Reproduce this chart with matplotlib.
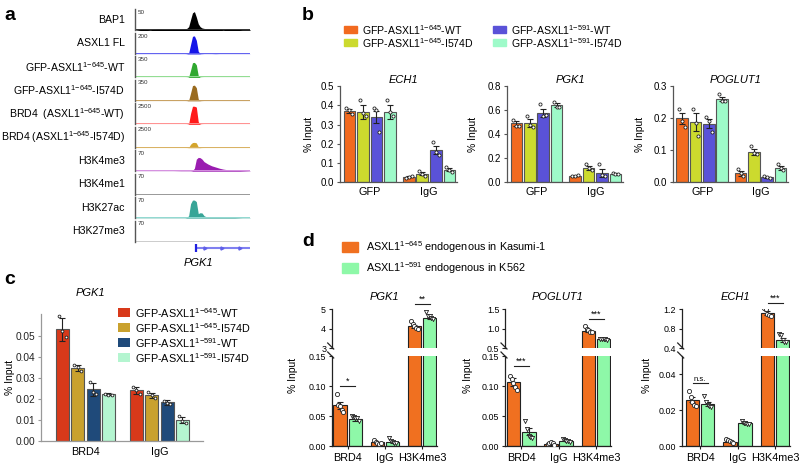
import numpy as np
import matplotlib.pyplot as plt
from matplotlib.patches import Rectangle

plt.rcParams['font.family'] = ['Liberation Sans', 'DejaVu Sans']
plt.rcParams['mathtext.fontset'] = 'custom'
plt.rcParams['mathtext.rm'] = 'Liberation Sans'


def sup(s):
    return r'$^{\mathregular{' + s.replace('-', '{-}') + '}}$'


# ---------------- panel a: genome tracks ----------------
pos = [0, 2, 4, 6, 8, 10, 12, 13, 13.5, 14, 14.5, 15, 15.5, 16, 16.5, 17, 17.5, 18, 18.5, 19,
       20, 21, 22, 23, 24, 26, 28, 30]
bap1 = [1, 3, 2, 4, 3, 4, 3, 4, 5, 9, 26, 42, 45, 32, 16, 9, 6, 5, 4, 4, 3, 4, 3, 2, 3, 3, 2, 2]
asxl1_fl = [1, 1, 1, 1, 1, 1, 1, 1, 2, 8, 90, 168, 172, 130, 25, 3, 2, 1, 1, 1, 1, 2, 1, 1, 1, 1, 1, 1]
gfp_645_wt = [1, 1, 1, 1, 1, 1, 1, 1, 2, 8, 120, 245, 250, 210, 30, 4, 2, 1, 1, 1, 1, 1, 1, 1, 1, 1, 1, 1]
gfp_645_mut = [1, 1, 1, 1, 1, 1, 1, 1, 2, 9, 130, 255, 262, 220, 30, 4, 2, 1, 1, 1, 1, 1, 1, 1, 1, 1, 1, 1]
brd4_wt = [5, 5, 5, 5, 5, 5, 5, 5, 10, 60, 1300, 2150, 2150, 2050, 300, 30, 10, 5, 5, 5, 5, 5, 5, 5, 5, 5, 5, 5]
brd4_mut = [5, 5, 5, 5, 5, 5, 5, 5, 8, 30, 420, 620, 640, 580, 110, 20, 8, 5, 5, 5, 5, 5, 5, 5, 5, 5, 5, 5]
h3k4me3 = [0.5, 0.5, 0.5, 0.5, 0.5, 0.5, 1, 1, 1, 1, 1, 2, 10, 40, 46, 45, 40, 32, 28, 24, 18, 14, 10, 7, 5, 3, 2, 1]
h3k4me1 = [0.5] * 28
h3k27ac = [1, 1, 1, 1, 1, 1, 1, 1, 2, 8, 48, 60, 60, 55, 15, 18, 17, 8, 5, 4, 3, 3, 3, 2, 2, 2, 1, 1]
h3k27me3 = [0] * 28

track_names = ['BAP1', 'ASXL1 FL', 'GFP-ASXL1' + sup('1-645') + '-WT', 'GFP-ASXL1' + sup('1-645') + '-I574D',
               'BRD4  (ASXL1' + sup('1-645') + '-WT)', 'BRD4 (ASXL1' + sup('1-645') + '-I574D)',
               'H3K4me3', 'H3K4me1', 'H3K27ac', 'H3K27me3']
track_vals = [bap1, asxl1_fl, gfp_645_wt, gfp_645_mut, brd4_wt, brd4_mut, h3k4me3, h3k4me1, h3k27ac, h3k27me3]
track_scale = [50, 200, 350, 350, 2500, 2500, 70, 70, 70, 70]
track_colors = ['#000000', '#1515E8', '#2FA82F', '#9A6B1F', '#FF1A1A', '#D4A52C', '#9A1DB0', '#777777',
                '#38A597', '#999999']
base_colors = ['#333333', '#6060F0', '#90DD90', '#C8A060', '#FF9090', '#D8B060', '#D58FE0', '#999999',
               '#90D8D0', '#CCCCCC']
gene_start, gene_end = 15.9, 30
gene_marks = [18.3, 22.8, 27.4]

# ---------------- panel b ----------------
b_groups = ['GFP', 'IgG']
b_series = ['GFP-ASXL1' + sup('1-645') + '-WT', 'GFP-ASXL1' + sup('1-645') + '-I574D',
            'GFP-ASXL1' + sup('1-591') + '-WT', 'GFP-ASXL1' + sup('1-591') + '-I574D']
b_colors = ['#F26A1F', '#CCDA2E', '#5A52D8', '#9EFAC9']

ech1_mean = [[0.370, 0.030], [0.365, 0.045], [0.340, 0.168], [0.365, 0.065]]
ech1_err = [[0.012, 0.003], [0.035, 0.008], [0.032, 0.020], [0.035, 0.008]]
ech1_pts = [[[0.387, 0.375, 0.354], [0.024, 0.030, 0.034]],
            [[0.430, 0.360, 0.345], [0.060, 0.045, 0.034]],
            [[0.388, 0.375, 0.261], [0.210, 0.160, 0.140]],
            [[0.430, 0.366, 0.345], [0.082, 0.065, 0.055]]]

pgk1_mean = [[0.490, 0.055], [0.494, 0.120], [0.578, 0.078], [0.640, 0.072]]
pgk1_err = [[0.020, 0.003], [0.030, 0.015], [0.035, 0.030], [0.015, 0.005]]
pgk1_pts = [[[0.520, 0.470, 0.470], [0.055, 0.055, 0.060]],
            [[0.550, 0.480, 0.460], [0.150, 0.120, 0.100]],
            [[0.650, 0.550, 0.560], [0.150, 0.060, 0.050]],
            [[0.670, 0.630, 0.630], [0.080, 0.070, 0.070]]]

poglut1_mean = [[0.200, 0.028], [0.188, 0.095], [0.182, 0.016], [0.260, 0.045]]
poglut1_err = [[0.017, 0.007], [0.027, 0.008], [0.014, 0.002], [0.006, 0.006]]
poglut1_pts = [[[0.230, 0.190, 0.173], [0.043, 0.028, 0.020]],
               [[0.230, 0.184, 0.144], [0.113, 0.092, 0.090]],
               [[0.205, 0.190, 0.157], [0.020, 0.016, 0.015]],
               [[0.274, 0.254, 0.254], [0.058, 0.044, 0.038]]]

# ---------------- panel c ----------------
c_groups = ['BRD4', 'IgG']
c_colors = ['#D8391A', '#C9A12E', '#1F4A7A', '#B4F5D0']
c_mean = [[0.0530, 0.0240], [0.0345, 0.0218], [0.0245, 0.0183], [0.0222, 0.0100]]
c_err = [[0.0055, 0.0015], [0.0015, 0.0012], [0.0030, 0.0012], [0.0005, 0.0015]]
c_pts = [[[0.0595, 0.0520, 0.0495], [0.0255, 0.0240, 0.0225]],
         [[0.0360, 0.0350, 0.0330], [0.0235, 0.0220, 0.0205]],
         [[0.0280, 0.0235, 0.0225], [0.0190, 0.0180, 0.0175]],
         [[0.0225, 0.0220, 0.0220], [0.0120, 0.0095, 0.0085]]]

# ---------------- panel d ----------------
d_groups = ['BRD4', 'IgG', 'H3K4me3']
d_series = ['ASXL1' + sup('1-645') + ' endogenous in Kasumi-1', 'ASXL1' + sup('1-591') + ' endogenous in K562']
d_colors = ['#F07020', '#8EF8A8']

d_pgk1_mean = [[0.068, 0.006, 4.12], [0.045, 0.006, 4.55]]
d_pgk1_err = [[0.006, 0.0015, 0.08], [0.003, 0.0015, 0.06]]
d_pgk1_pts = [[[0.087, 0.068, 0.066, 0.060, 0.057], [0.010, 0.007, 0.0055, 0.0035, 0.0045], [4.36, 4.24, 4.14, 4.02, 3.97]],
              [[0.050, 0.049, 0.047, 0.046, 0.041], [0.013, 0.009, 0.007, 0.0055, 0.0045], [4.83, 4.66, 4.62, 4.53, 4.48]]]

d_poglut1_mean = [[0.107, 0.003, 0.947], [0.024, 0.009, 0.725]]
d_poglut1_err = [[0.007, 0.0012, 0.03], [0.006, 0.001, 0.01]]
d_poglut1_pts = [[[0.116, 0.111, 0.105, 0.098, 0.094], [0.003, 0.0045, 0.0067, 0.0055, 0.001], [1.06, 0.99, 0.95, 0.91, 0.90]],
                 [[0.041, 0.029, 0.017, 0.015, 0.014], [0.012, 0.010, 0.0078, 0.0083, 0.0067], [0.74, 0.73, 0.72, 0.72, 0.71]]]

d_ech1_mean = [[0.0257, 0.0024, 1.11], [0.0233, 0.0128, 0.565]]
d_ech1_err = [[0.0015, 0.0004, 0.04], [0.0010, 0.0004, 0.04]]
d_ech1_pts = [[[0.0307, 0.0270, 0.0246, 0.0230, 0.0220], [0.0041, 0.0034, 0.0026, 0.0022, 0.0019], [1.22, 1.20, 1.10, 1.07, 1.06]],
              [[0.0280, 0.0246, 0.0230, 0.0220, 0.0214], [0.0140, 0.0130, 0.0127, 0.0123, 0.0120], [0.68, 0.66, 0.56, 0.53, 0.52]]]

# ---------------- figure ----------------
W, H = 800, 469
fig = plt.figure(figsize=(8, 4.69), dpi=100)


def px_axes(x0, y0, x1, y1):
    return fig.add_axes([x0 / W, 1 - y1 / H, (x1 - x0) / W, (y1 - y0) / H])


ov = fig.add_axes([0, 0, 1, 1], zorder=10)
ov.set_xlim(0, W)
ov.set_ylim(H, 0)
ov.axis('off')

# panel letters
for letter, x, y in [('a', 4, 16), ('b', 302, 16), ('c', 4, 279), ('d', 302, 241)]:
    ov.text(x, y, letter, fontsize=14, fontweight='bold', va='center', ha='left')

# --- a ---
for i in range(len(track_names)):
    top = 9.5 + i * 23.45
    ax = px_axes(135, top, 250, top + 21)
    ax.fill_between(pos, track_vals[i], color=track_colors[i], lw=0)
    ax.axhline(0, color=base_colors[i], lw=1.4)
    ax.set_xlim(0, 30)
    ax.set_ylim(0, track_scale[i])
    for s in ['top', 'right', 'bottom']:
        ax.spines[s].set_visible(False)
    ax.spines['left'].set_color('#555555')
    ax.spines['left'].set_linewidth(1)
    ax.set_xticks([])
    ax.set_yticks([])
    ax.text(0.02, 0.97, str(track_scale[i]), transform=ax.transAxes, fontsize=4.5, va='top', ha='left', color='#333')
    ax.patch.set_alpha(0)
    ov.text(125, top + 10.5, track_names[i], fontsize=7.55, ha='right', va='center')

axg = px_axes(135, 243, 250, 253)
axg.hlines(0, gene_start, gene_end, color='#8080F0', lw=1.5)
axg.vlines(gene_start, -1, 1, color='#2020E0', lw=1.6)
axg.plot(gene_marks, [0] * len(gene_marks), '>', color='#6060E8', ms=2.2)
axg.set_xlim(0, 30)
axg.set_ylim(-1.2, 1.2)
axg.axis('off')
ov.text(198, 263, 'PGK1', fontsize=8, style='italic', ha='center', va='center')


def style_axes(ax, color='#555555', size=6.5):
    for s in ['top', 'right']:
        ax.spines[s].set_visible(False)
    for s in ['left', 'bottom']:
        ax.spines[s].set_color(color)
        ax.spines[s].set_linewidth(0.9)
    ax.tick_params(labelsize=size, length=2.5, width=0.8, color=color, pad=1.5)
    ax.patch.set_alpha(0)


def bar_panel(ax, means, errs, pts, colors, width, step, edge, markers=None, msize=5):
    n = len(means)
    for i in range(n):
        x = np.arange(len(means[i])) + (i - (n - 1) / 2) * step
        ax.bar(x, means[i], width, color=colors[i], edgecolor=edge, lw=0.8, zorder=2)
        ax.errorbar(x, means[i], yerr=errs[i], fmt='none', ecolor='#222222', elinewidth=0.8,
                    capsize=2, capthick=0.8, zorder=3)
        mk = 'o' if markers is None else markers[i]
        for j, vals in enumerate(pts[i]):
            off = np.linspace(-0.25, 0.25, len(vals)) * width
            ax.scatter(x[j] + off, vals, s=msize, marker=mk, facecolor='white', edgecolor='#222222',
                       lw=0.6, zorder=4)


# --- b ---
for i in range(4):
    cx = 344 if i < 2 else 493
    cy = 30 if i % 2 == 0 else 43
    ov.add_patch(Rectangle((cx, cy - 3.5), 13, 7, color=b_colors[i]))
    ov.text(cx + 18, cy, b_series[i], fontsize=7.6, va='center', ha='left')

b_panels = [(340, 457, 'ECH1', ech1_mean, ech1_err, ech1_pts, 0.5, [0, 0.1, 0.2, 0.3, 0.4, 0.5], 309),
            (507, 623, 'PGK1', pgk1_mean, pgk1_err, pgk1_pts, 0.8, [0, 0.2, 0.4, 0.6, 0.8], 473),
            (673, 788, 'POGLUT1', poglut1_mean, poglut1_err, poglut1_pts, 0.3, [0, 0.1, 0.2, 0.3], 640)]
for x0, x1, title, m, e, p, ymax, ticks, ylx in b_panels:
    ax = px_axes(x0, 86, x1, 182.5)
    bar_panel(ax, m, e, p, b_colors, 0.197, 0.228, '#555555')
    ax.set_xlim(-0.5, 1.47)
    ax.set_ylim(0, ymax)
    ax.set_yticks(ticks)
    ax.set_yticklabels([f'{t:.1f}' for t in ticks])
    ax.set_xticks([0, 1])
    ax.set_xticklabels(b_groups)
    style_axes(ax, size=7)
    ax.tick_params(axis='x', length=0, labelsize=7.8, pad=3)
    ov.text((x0 + x1) / 2 + 5, 80, title, fontsize=8, style='italic', ha='center', va='center')
    ov.text(ylx, 134, '% Input', fontsize=7.5, rotation=90, ha='center', va='center')

# --- c ---
axc = px_axes(41, 314, 203, 441)
bar_panel(axc, c_mean, c_err, c_pts, c_colors, 0.176, 0.207, '#555555', msize=4)
axc.set_xlim(-0.6, 1.59)
axc.set_ylim(0, 0.0603)
axc.set_yticks([0, 0.01, 0.02, 0.03, 0.04, 0.05])
axc.set_yticklabels(['0.00', '0.01', '0.02', '0.03', '0.04', '0.05'])
axc.set_xticks([0, 1])
axc.set_xticklabels(c_groups)
style_axes(axc, color='#999999', size=7.3)
axc.tick_params(axis='y', labelcolor='#222222')
axc.tick_params(axis='x', length=0, labelsize=7.8, pad=4)
ov.text(90, 293, 'PGK1', fontsize=8, style='italic', ha='center', va='center')
ov.text(10, 377, '% Input', fontsize=7.5, rotation=90, ha='center', va='center')
for i in range(4):
    cy = 312.7 + i * 15
    ov.add_patch(Rectangle((118, cy - 4.5), 12, 9, facecolor=c_colors[i], edgecolor='none'))
    ov.text(135, cy, b_series[i], fontsize=7.8, va='center', ha='left')

# --- d ---
for i in range(2):
    cy = 247 + i * 21
    ov.add_patch(Rectangle((342, cy - 5), 16, 10, color=d_colors[i]))
    ov.text(366, cy, d_series[i], fontsize=7.8, va='center', ha='left')

d_panels = [(331.7, 437, -0.43, 'PGK1', d_pgk1_mean, d_pgk1_err, d_pgk1_pts,
             (3, 5), [3, 4, 5], ['3', '4', '5'], (0, 0.15), [0, 0.05, 0.10, 0.15], ['0.00', '0.05', '0.10', '0.15'],
             293, [(0, 0.10, '*', 'b'), (2, 5.26, '**', 't')]),
            (505, 611, -0.43, 'POGLUT1', d_poglut1_mean, d_poglut1_err, d_poglut1_pts,
             (0.5, 1.5), [0.5, 1.0, 1.5], ['0.5', '1.0', '1.5'], (0, 0.15), [0, 0.05, 0.10, 0.15],
             ['0.00', '0.05', '0.10', '0.15'],
             468, [(0, 0.133, '***', 'b'), (2, 1.24, '***', 't')]),
            (681.7, 790, -0.49, 'ECH1', d_ech1_mean, d_ech1_err, d_ech1_pts,
             (0.4, 1.2), [0.4, 0.8, 1.2], ['0.4', '0.8', '1.2'], (0, 0.05), [0, 0.02, 0.04], ['0.00', '0.02', '0.04'],
             647, [(0, 0.0348, 'n.s.', 'b'), (2, 1.32, '***', 't')])]

for (x0, x1, xl, title, m, e, p, ytop, tt, ttl, ybot, bt, btl, ylx, sigs) in d_panels:
    axt = px_axes(x0, 309, x1, 348)
    axb = px_axes(x0, 356, x1, 446)
    for ax in (axt, axb):
        bar_panel(ax, m, e, p, d_colors, 0.36, 0.41, '#222222', markers=['o', 'v'], msize=9)
        ax.set_xlim(xl, 2.4)
        style_axes(ax, color='#222222', size=6.4)
    axt.set_ylim(*ytop)
    axt.set_yticks(tt)
    axt.set_yticklabels(ttl)
    axt.spines['bottom'].set_visible(False)
    axt.set_xticks([])
    axb.set_ylim(*ybot)
    axb.set_yticks(bt)
    axb.set_yticklabels(btl)
    axb.set_xticks([0, 1, 2])
    axb.set_xticklabels(d_groups)
    axb.tick_params(axis='x', labelsize=7.8, length=2, pad=3)
    for g, y, s, which in sigs:
        a = axb if which == 'b' else axt
        a.plot([g - 0.2, g + 0.2], [y, y], color='#222222', lw=0.8, clip_on=False)
        if s == 'n.s.':
            a.text(g, y, s, fontsize=5.5, ha='center', va='bottom')
        else:
            a.text(g, y, s, fontsize=6.5, ha='center', va='bottom')
    ov.plot([x0 - 4, x0 + 2], [343, 349], color='#222222', lw=0.9)
    ov.plot([x0 - 4, x0 + 2], [352, 358], color='#222222', lw=0.9)
    ov.text((x0 + x1) / 2, 297, title, fontsize=8, style='italic', ha='center', va='center')
    ov.text(ylx, 375, '% Input', fontsize=7.5, rotation=90, ha='center', va='center')

fig.savefig('out.png', dpi=100)
